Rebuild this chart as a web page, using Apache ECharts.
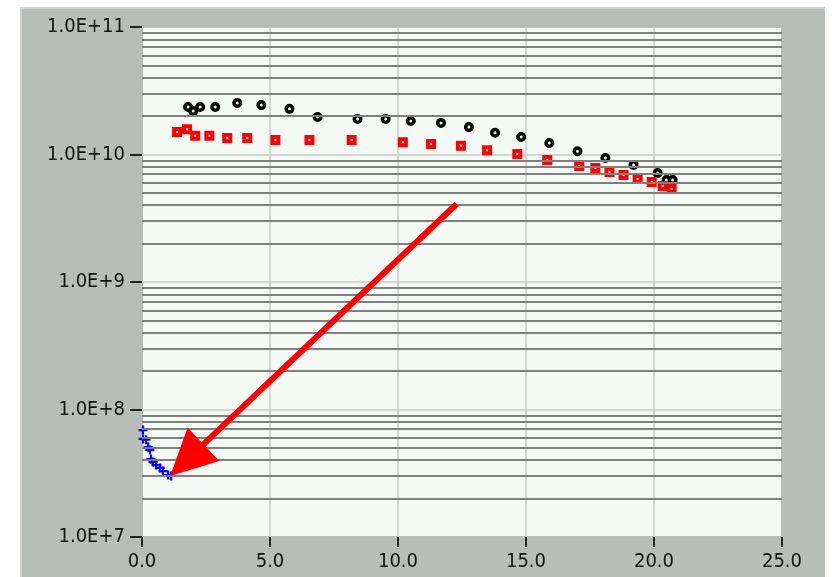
<!DOCTYPE html>
<html>
<head>
<meta charset="utf-8">
<script src="https://cdn.jsdelivr.net/npm/echarts@6/dist/echarts.min.js"></script>
<style>
  html, body { margin: 0; padding: 0; background: #fff; }
  #panel { position: absolute; left: 20px; top: 7px; width: 805px; height: 570px;
    background: #b9bdb9; border-top: 2px solid #d0d4d0; border-left: 2px solid #d0d4d0; box-sizing: border-box; }
  #chart { position: absolute; left: 0; top: 0; width: 832px; height: 577px; }
</style>
</head>
<body>
<div id="panel"></div>
<div id="chart"></div>
<script>
// x ticks 0..25 step 5, y log decades 1e7..1e11
const xTicks = [0, 5, 10, 15, 20, 25]
const yDecades = [7, 8, 9, 10, 11]

// black circles
const circleX = [1.80, 2.00, 2.27, 2.86, 3.72, 4.66, 5.76, 6.86, 8.42, 9.52, 10.50, 11.68,
  12.77, 13.79, 14.81, 15.91, 17.01, 18.10, 19.20, 20.14, 20.49, 20.73]
const circleY = [2.36e10, 2.19e10, 2.36e10, 2.36e10, 2.54e10, 2.44e10, 2.28e10, 1.97e10, 1.90e10,
  1.90e10, 1.83e10, 1.77e10, 1.64e10, 1.48e10, 1.37e10, 1.23e10, 1.06e10, 9.4e9, 8.28e9,
  7.16e9, 6.31e9, 6.31e9]

// red squares
const squareX = [1.37, 1.76, 2.08, 2.63, 3.33, 4.11, 5.21, 6.54, 8.19, 10.19, 11.29, 12.46,
  13.48, 14.66, 15.83, 17.08, 17.71, 18.26, 18.81, 19.36, 19.91, 20.34, 20.69]
const squareY = [1.50e10, 1.58e10, 1.40e10, 1.40e10, 1.35e10, 1.35e10, 1.30e10, 1.30e10, 1.30e10,
  1.25e10, 1.21e10, 1.17e10, 1.08e10, 1.01e10, 9.06e9, 8.13e9, 7.84e9, 7.29e9, 6.91e9,
  6.42e9, 6.08e9, 5.66e9, 5.36e9]

// blue crosses
const crossX = [0.04, 0.04, 0.16, 0.24, 0.31, 0.35, 0.43, 0.55, 0.71, 0.82, 1.02, 1.14]
const crossY = [6.9e7, 5.87e7, 5.8e7, 5.08e7, 4.81e7, 4.09e7, 3.87e7, 3.67e7, 3.48e7, 3.29e7,
  3.06e7, 3.01e7]

// annotation arrow (data coords, end = centre of the head)
const arrowFrom = [12.29, 4.09e9]
const arrowTo = [1.75, 4.01e7]

const zip = (xs, ys) => xs.map((x, i) => [x, ys[i]])

// minor log grid lines 2..9 in each decade
const minorLines = []
for (let e = yDecades[0]; e < yDecades[yDecades.length - 1]; e++) {
  for (let k = 2; k <= 9; k++) minorLines.push({ yAxis: k * Math.pow(10, e) })
}

const font = '"DejaVu Sans Condensed", "Liberation Sans", sans-serif'
const chart = echarts.init(document.getElementById('chart'))

chart.setOption({
  backgroundColor: 'transparent',
  animation: false,
  grid: {
    left: 142, right: 50, top: 27, bottom: 40,
    show: true,
    backgroundColor: '#f4f9f5',
    borderColor: '#7d7d7d',
    borderWidth: 1.5
  },
  xAxis: {
    type: 'value',
    min: xTicks[0],
    max: xTicks[xTicks.length - 1],
    interval: 5,
    axisLine: { show: false },
    axisTick: { show: true, length: 10, lineStyle: { color: '#222', width: 2 } },
    axisLabel: {
      margin: 15, color: '#111', fontFamily: font, fontSize: 20,
      formatter: v => v.toFixed(1)
    },
    splitLine: { show: true, lineStyle: { color: '#c6cac6', width: 1.5 } }
  },
  yAxis: {
    type: 'log',
    logBase: 10,
    min: Math.pow(10, yDecades[0]),
    max: Math.pow(10, yDecades[yDecades.length - 1]),
    axisLine: { show: false },
    axisTick: { show: true, length: 12, lineStyle: { color: '#222', width: 2 } },
    axisLabel: {
      margin: 17, color: '#111', fontFamily: font, fontSize: 20,
      formatter: v => '1.0E+' + Math.round(Math.log10(v))
    },
    splitLine: { show: true, lineStyle: { color: '#c6cac6', width: 1.5 } }
  },
  series: [
    {
      name: 'grid',
      type: 'scatter',
      data: [],
      silent: true,
      markLine: {
        silent: true,
        symbol: 'none',
        label: { show: false },
        lineStyle: { color: '#7f7f7f', width: 2, type: 'solid' },
        data: minorLines
      }
    },
    {
      name: 'circles',
      type: 'scatter',
      symbol: 'circle',
      symbolSize: 6.5,
      itemStyle: { color: '#f4f9f5', borderColor: '#000', borderWidth: 3.5, opacity: 1 },
      data: zip(circleX, circleY)
    },
    {
      name: 'squares',
      type: 'scatter',
      symbol: 'rect',
      symbolSize: 6,
      itemStyle: { color: '#ffffff', borderColor: '#ff0000', borderWidth: 4, opacity: 1 },
      data: zip(squareX, squareY)
    },
    {
      name: 'crosses',
      type: 'scatter',
      symbol: 'path://M-1,-4 L1,-4 L1,-1 L4,-1 L4,1 L1,1 L1,4 L-1,4 L-1,1 L-4,1 L-4,-1 L-1,-1 Z',
      symbolSize: 9,
      itemStyle: { color: '#0000ff', opacity: 1 },
      data: zip(crossX, crossY)
    },
    {
      name: 'arrow',
      type: 'scatter',
      data: [],
      z: 5,
      markLine: {
        silent: true,
        symbol: ['none', 'triangle'],
        symbolSize: 46,
        label: { show: false },
        lineStyle: { color: '#ff0000', width: 6, type: 'solid', opacity: 1 },
        itemStyle: { color: '#ff0000' },
        data: [[{ coord: arrowFrom }, { coord: arrowTo }]]
      }
    }
  ]
})
</script>
</body>
</html>
